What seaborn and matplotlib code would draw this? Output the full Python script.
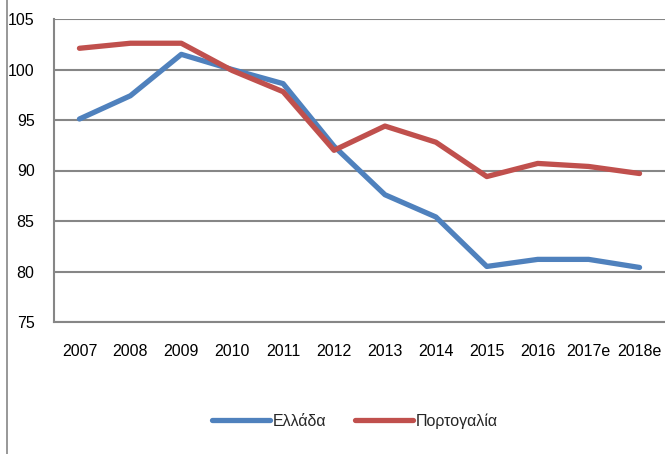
import matplotlib
matplotlib.use("Agg")
import matplotlib.pyplot as plt
import seaborn as sns
import pandas as pd
from matplotlib.lines import Line2D

years = ["2007", "2008", "2009", "2010", "2011", "2012", "2013", "2014", "2015", "2016", "2017e", "2018e"]
greece = [95.1, 97.4, 101.5, 100.0, 98.6, 92.4, 87.6, 85.4, 80.5, 81.2, 81.2, 80.4]
portugal = [102.1, 102.6, 102.6, 99.9, 97.8, 92.0, 94.4, 92.8, 89.4, 90.7, 90.4, 89.7]
series_names = ["Ελλάδα", "Πορτογαλία"]
yticks = [75, 80, 85, 90, 95, 100, 105]

df = pd.DataFrame({
    "year": years * 2,
    "x": list(range(len(years))) * 2,
    "value": greece + portugal,
    "series": [series_names[0]] * len(years) + [series_names[1]] * len(years),
})

sns.set_theme(style="white")
plt.rcParams["font.family"] = ["Liberation Sans", "DejaVu Sans"]

fig = plt.figure(figsize=(6.65, 4.54), dpi=100)
ax = fig.add_axes([54 / 665, 1 - 322 / 454, 1 - 54 / 665, (322 - 19) / 454])

colors = {"Ελλάδα": "#4F81BD", "Πορτογαλία": "#C0504D"}
sns.lineplot(data=df, x="x", y="value", hue="series", palette=colors,
             linewidth=3.8, ax=ax, legend=False, solid_capstyle="round")

ax.set_xlim(-0.5, len(years) - 0.5)
ax.set_ylim(75, 105)
ax.set_yticks(yticks)
ax.set_yticklabels([str(t) for t in yticks])
ax.set_xticks(range(len(years)))
ax.set_xticklabels(years)
ax.set_xlabel("")
ax.set_ylabel("")
ax.yaxis.grid(True, color="#868686", linewidth=1.5)
ax.xaxis.grid(False)
ax.set_axisbelow(True)
for s in ["top", "right"]:
    ax.spines[s].set_visible(False)
for s in ["left", "bottom"]:
    ax.spines[s].set_color("#868686")
    ax.spines[s].set_linewidth(1.5)
ax.tick_params(axis="y", length=0, pad=14, labelsize=11.5, colors="black")
ax.tick_params(axis="x", length=0, pad=16, labelsize=11.5, colors="black")

handles = [Line2D([0], [0], color=colors[n], linewidth=3.8, solid_capstyle="round") for n in series_names]
fig.legend(handles, series_names, loc="center", bbox_to_anchor=(355 / 665, 1 - 421 / 454),
           ncol=2, frameon=False, fontsize=11.5, handlelength=3.6, handletextpad=0.2,
           columnspacing=1.8)

fig.add_artist(Line2D([7 / 665, 7 / 665], [0, 1], color="#868686", linewidth=1.2,
                      transform=fig.transFigure))

fig.savefig("out.png", dpi=100)
